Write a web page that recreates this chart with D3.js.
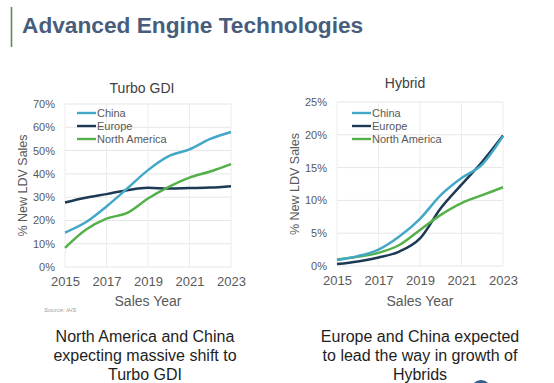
<!DOCTYPE html>
<html><head><meta charset="utf-8">
<script src="https://cdn.jsdelivr.net/npm/d3@7"></script>
<style>html,body{margin:0;padding:0;background:#fff;}svg{display:block;font-family:Arial,"Liberation Sans",sans-serif;}</style>
</head><body>
<script>
const years = [2015,2016,2017,2018,2019,2020,2021,2022,2023];
const yearTicks = [2015,2017,2019,2021,2023];
const seriesNames = ["China","Europe","North America"];
const seriesColors = ["#43a8c8","#1d3a55","#54b04a"];
// Turbo GDI (% of new LDV sales)
const turboChina  = [14.8,19.2,26.0,33.7,41.6,47.6,50.5,55.0,58.0];
const turboEurope = [27.7,29.7,31.3,33.0,34.0,33.7,33.9,34.1,34.7];
const turboNA     = [8.2,16.0,20.8,23.2,29.4,34.4,38.4,41.0,44.2];
// Hybrid (% of new LDV sales)
const hybChina  = [0.9,1.5,2.5,4.5,7.2,10.8,13.4,15.5,19.8];
const hybEurope = [0.3,0.7,1.3,2.2,4.2,8.8,12.4,15.9,19.9];
const hybNA     = [1.0,1.4,2.0,3.2,5.5,7.8,9.6,10.8,12.0];
const turboTicks = [0,10,20,30,40,50,60,70];
const hybTicks = [0,5,10,15,20,25];

const W = 554, H = 383;
const svg = d3.select("body").append("svg").attr("width", W).attr("height", H);

// header
svg.append("line").attr("x1",11.5).attr("x2",11.5).attr("y1",7).attr("y2",47)
  .attr("stroke","#5b8a5b").attr("stroke-width",1.6);
svg.append("text").attr("x",22).attr("y",33).attr("font-size",22.7).attr("font-weight","bold")
  .attr("fill","#485d7b").text("Advanced Engine Technologies");

function chart(cfg){
  const x = d3.scaleLinear().domain([2015,2023]).range([cfg.x0,cfg.x1]);
  const y = d3.scaleLinear().domain([0,cfg.ymax]).range([cfg.y1,cfg.y0]);
  const g = svg.append("g");
  // grid
  g.append("g").selectAll("line").data(cfg.yticks).join("line")
    .attr("x1",cfg.x0).attr("x2",cfg.x1).attr("y1",d=>y(d)).attr("y2",d=>y(d))
    .attr("stroke","#e6e6e6").attr("stroke-width",1);
  g.append("g").selectAll("line").data(yearTicks).join("line")
    .attr("x1",d=>x(d)).attr("x2",d=>x(d)).attr("y1",cfg.y0).attr("y2",cfg.y1)
    .attr("stroke","#ececec").attr("stroke-width",1);
  // axes
  const ya = g.append("g").attr("transform",`translate(${cfg.x0},0)`)
    .call(d3.axisLeft(y).tickValues(cfg.yticks).tickFormat(d=>d+"%").tickSize(0).tickPadding(10));
  ya.select(".domain").remove();
  ya.selectAll("text").attr("font-size",11).attr("fill","#595959").attr("font-family","Arial,'Liberation Sans',sans-serif");
  const xa = g.append("g").attr("transform",`translate(0,${cfg.y1})`)
    .call(d3.axisBottom(x).tickValues(yearTicks).tickFormat(d3.format("d")).tickSize(0).tickPadding(10));
  xa.select(".domain").remove();
  xa.selectAll("text").attr("font-size",13).attr("fill","#595959").attr("font-family","Arial,'Liberation Sans',sans-serif");
  // lines
  const line = d3.line().x((d,i)=>x(years[i])).y(d=>y(d)).curve(d3.curveMonotoneX);
  const order = [1,2,0];
  order.forEach(k=>{
    g.append("path").attr("d",line(cfg.data[k])).attr("fill","none")
      .attr("stroke",seriesColors[k]).attr("stroke-width",2.5);
  });
  // title
  g.append("text").attr("x",cfg.tx).attr("y",cfg.ty).attr("text-anchor","middle")
    .attr("font-size",14).attr("fill","#404040").text(cfg.title);
  // axis titles
  g.append("text").attr("transform",`translate(${cfg.ytx},${(cfg.y0+cfg.y1)/2}) rotate(-90)`)
    .attr("text-anchor","middle").attr("dominant-baseline","central").attr("font-size",12.5).attr("fill","#595959").text("% New LDV Sales");
  g.append("text").attr("x",(cfg.x0+cfg.x1)/2).attr("y",306).attr("text-anchor","middle")
    .attr("font-size",14).attr("fill","#595959").text("Sales Year");
  // legend
  const lg = g.append("g");
  seriesNames.forEach((n,i)=>{
    const ly = 113 + i*13;
    lg.append("line").attr("x1",cfg.lx).attr("x2",cfg.lx+19).attr("y1",ly).attr("y2",ly)
      .attr("stroke",seriesColors[i]).attr("stroke-width",2.4);
    lg.append("text").attr("x",cfg.lx+20).attr("y",ly).attr("dominant-baseline","central")
      .attr("font-size",11).attr("fill","#595959").text(n);
  });
}

chart({x0:65,x1:231,y0:104,y1:267,ymax:70,yticks:turboTicks,title:"Turbo GDI",tx:142,ty:93,ytx:22.5,lx:77,
  data:[turboChina,turboEurope,turboNA]});
chart({x0:337,x1:503,y0:102,y1:266,ymax:25,yticks:hybTicks,title:"Hybrid",tx:405,ty:88,ytx:295,lx:352,
  data:[hybChina,hybEurope,hybNA]});

svg.append("text").attr("x",44).attr("y",312).attr("font-size",6).attr("font-style","italic")
  .attr("fill","#a0a0a0").text("Source: IHS");

const leftText = ["North America and China","expecting massive shift to","Turbo GDI"];
const rightText = ["Europe and China expected","to lead the way in growth of","Hybrids"];
leftText.forEach((t,i)=>svg.append("text").attr("x",145).attr("y",342+i*19.2).attr("text-anchor","middle")
  .attr("font-size",16).attr("fill","#1e1e1e").text(t));
rightText.forEach((t,i)=>svg.append("text").attr("x",420).attr("y",341.5+i*19.2).attr("text-anchor","middle")
  .attr("font-size",16).attr("fill","#1e1e1e").text(t));

svg.append("circle").attr("cx",481).attr("cy",390).attr("r",10).attr("fill","#2e5f8f");
</script>
</body></html>
